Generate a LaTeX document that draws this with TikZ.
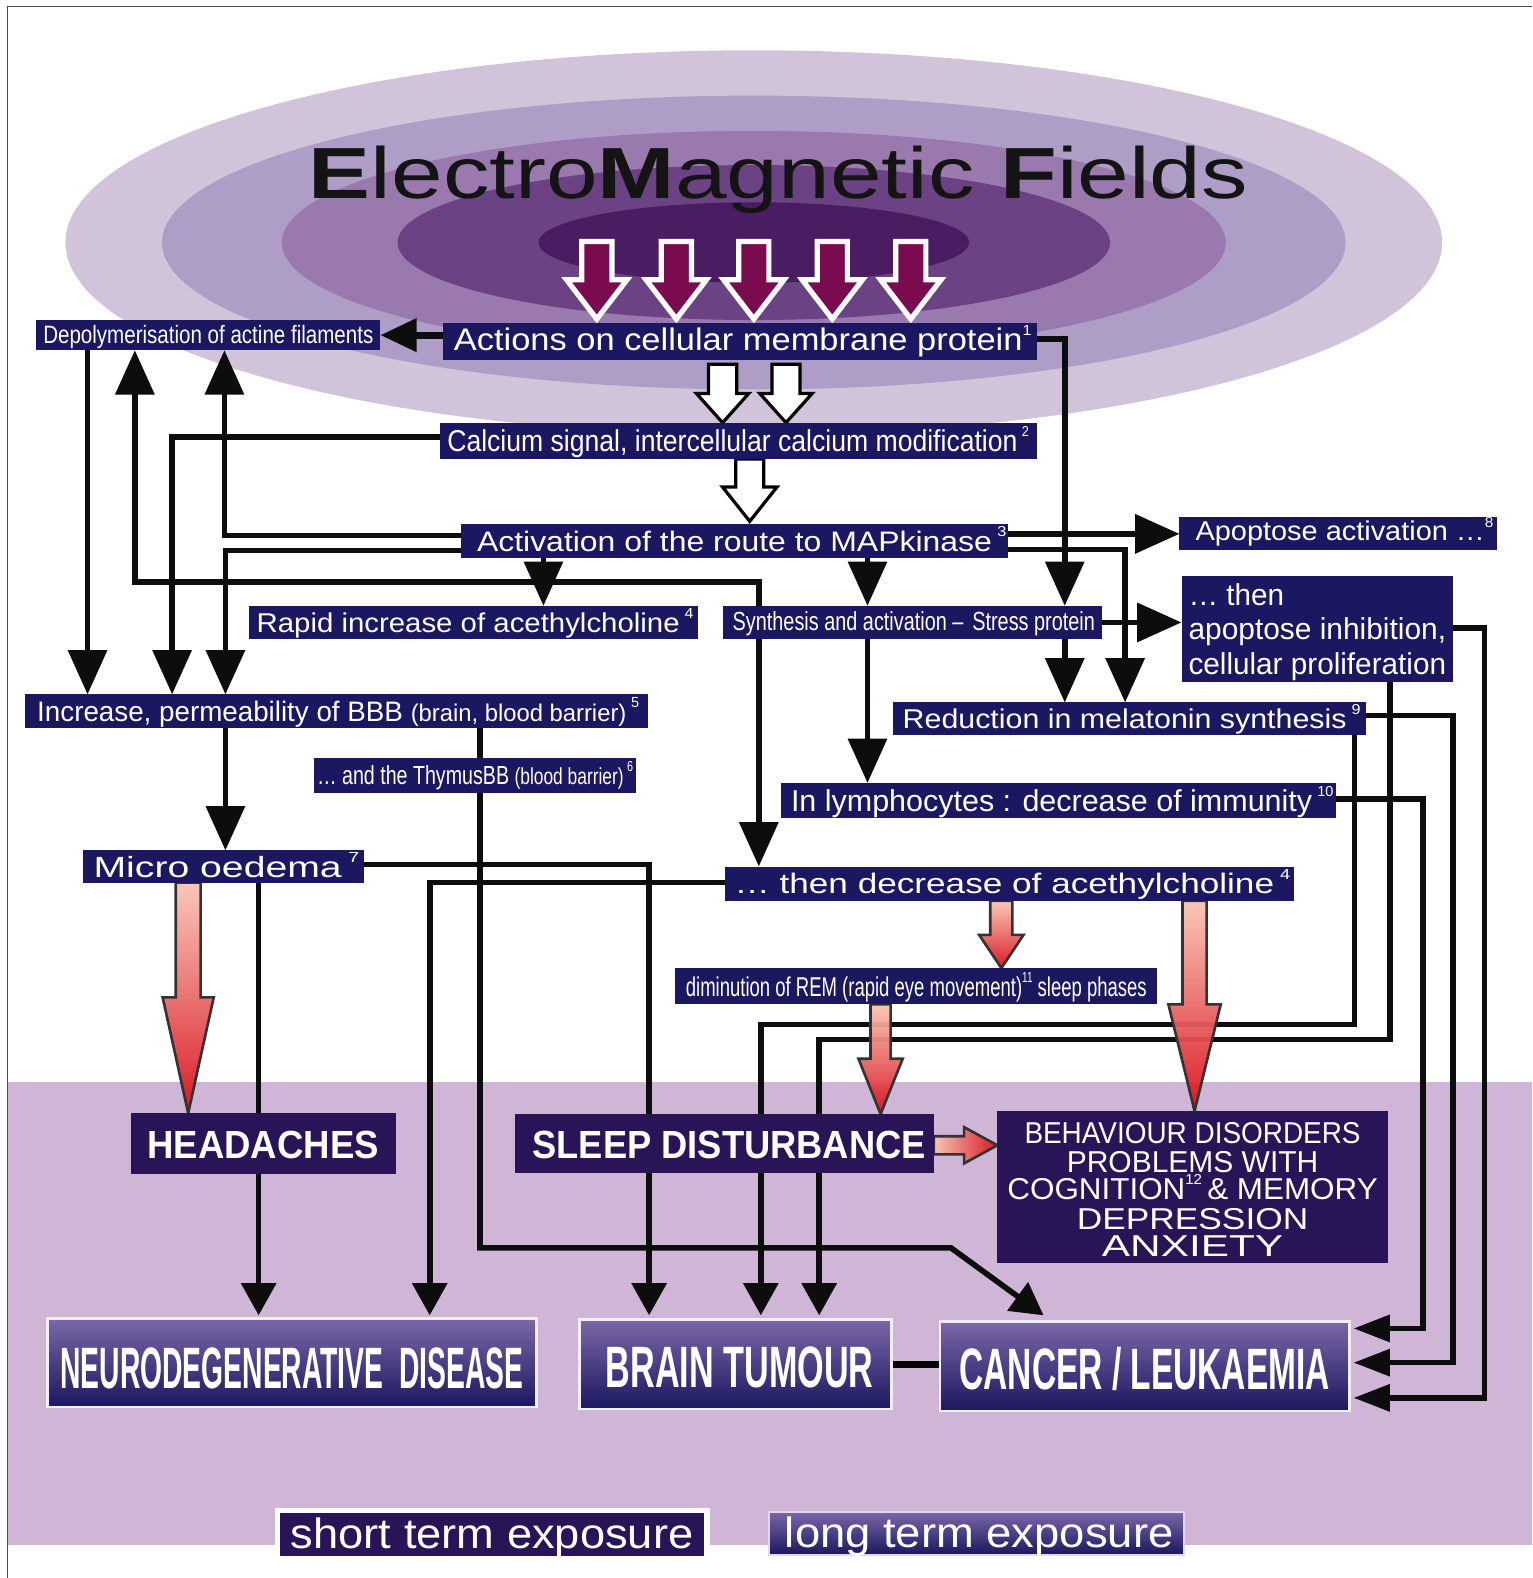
\documentclass[tikz,border=0pt]{standalone}
\usepackage{graphicx}
\usepackage{fontspec}
\setmainfont{Liberation Sans}
\usepackage{tikz}
\usetikzlibrary{arrows.meta,calc,shadings}
\definecolor{navy}{HTML}{1B1760}
\definecolor{deep}{HTML}{291458}
\definecolor{band}{HTML}{D0B6D6}
\definecolor{halo}{HTML}{D1C4DA}
\definecolor{haloB}{HTML}{AE9DC6}
\definecolor{haloC}{HTML}{9A79AF}
\definecolor{haloD}{HTML}{6B4284}
\definecolor{haloE}{HTML}{4A1D63}
\definecolor{field}{HTML}{7A0B4F}
\definecolor{redpale}{HTML}{F9C4B4}
\definecolor{redmid}{HTML}{DE2F30}
\definecolor{redcore}{HTML}{D9101C}
\definecolor{lilac}{HTML}{7B68A8}
\newcommand{\FitText}[3][0pt]{\resizebox{#2}{\height}{\raisebox{#1}[.72em][0pt]{#3}}}
\newcommand{\SizeOf}[1]{\fontsize{#1}{#1}\selectfont}
\newcommand{\Sup}[1]{\raisebox{.5em}{\fontsize{7}{7}\selectfont\resizebox{!}{5pt}{#1}}}
% arrow with a body, going down
\newcommand{\FatDown}[6]{\path[#1] let \p1=(#2),\p2=(#3) in
	(\x1-#4,\y1) -- (\x1-#4,\y2+#6) -- (\x1-#5,\y2+#6) -- (\x1,\y2)
	-- (\x1+#5,\y2+#6) -- (\x1+#4,\y2+#6) -- (\x1+#4,\y1) -- cycle;}
\pgfdeclarelayer{bg}
\pgfdeclarelayer{edges}
\pgfdeclarelayer{fat}
\pgfsetlayers{bg,edges,fat,main}
\tikzset{
	infobox/.style={fill=navy, text=white, inner sep=0pt, outer sep=0pt},
	deepbox/.style={infobox, fill=deep},
	illbox/.style={infobox, draw=white!75!band, line width=1.4pt, top color=lilac, middle color=navy!80!lilac, bottom color=navy, shading angle=0},
	link/.style={draw=black!95, line width=2.8pt, -{Triangle[length=22pt,width=19pt]}},
	linkshort/.style={link, -{Triangle[length=16pt,width=17pt]}},
	linkside/.style={link, -{Triangle[length=18pt,width=13pt]}},
	emfarrow/.style={fill=field, draw=white, line width=2.6pt},
	hollow/.style={fill=white, draw=black, line width=1.6pt},
	redarrow/.style={top color=redpale, middle color=redmid, bottom color=redcore, draw=black!80, line width=1.3pt, fill opacity=.95},
}
\begin{document}
\begin{tikzpicture}[x=0.5pt,y=-0.5pt]
		\useasboundingbox (0,0) rectangle (1522.5,1568);

		% Background
		\begin{pgfonlayer}{bg}
			\fill[band] (8,1075) rectangle (1522.5,1535);
			\draw[black!70, line width=.5pt] (7,1568) -- (7,6) -- (1522.5,6);
			\fill[halo] (749,241) ellipse [x radius=684, y radius=191];
			\fill[haloB] (749,241) ellipse [x radius=588, y radius=146];
			\fill[haloC] (749,241) ellipse [x radius=469, y radius=111];
			\fill[haloD] (749,241) ellipse [x radius=354, y radius=77];
			\fill[haloE] (749,241) ellipse [x radius=214, y radius=40];
		\end{pgfonlayer}

		% Define nodes
		\node[text=black!92, inner sep=0pt, font=\SizeOf{36}, anchor=base] (title) at (773.5,197) {\FitText{466.5pt}{\textbf{E}lectro\textbf{M}agnetic \textbf{F}ields}};

		\node[infobox, minimum width=171pt, minimum height=15pt, font=\SizeOf{12.5}] (dep) at (207,333) {\FitText[.5pt]{164pt}{Depolymerisation of actine filaments}};
		\node[infobox, minimum width=295pt, minimum height=18.5pt, font=\SizeOf{15.5}] (act) at (735,339.5) {\hspace*{3pt}\FitText[1pt]{287pt}{Actions on cellular membrane protein\Sup{1}}};
		\node[infobox, minimum width=296.5pt, minimum height=18pt, font=\SizeOf{15}] (cal) at (733.5,438) {\FitText{289pt}{Calcium signal, intercellular calcium modification\,\Sup{2}}};
		\node[infobox, minimum width=272pt, minimum height=16.5pt, font=\SizeOf{14}] (map) at (730,537.5) {\hspace*{7pt}\FitText{263pt}{Activation of the route to MAPkinase\,\Sup{3}}};
		\node[infobox, minimum width=157.5pt, minimum height=16.5pt, font=\SizeOf{13.5}] (apo) at (1329.5,530.5) {\hspace*{6.5pt}\FitText[1.5pt]{148pt}{Apoptose activation \dots\Sup{8}}};
		\node[infobox, minimum width=223.5pt, minimum height=16.5pt, font=\SizeOf{13.5}] (rapid) at (470.5,618.5) {\hspace*{1.5pt}\FitText{217pt}{Rapid increase of acethylcholine\,\Sup{4}}};
		\node[infobox, minimum width=188.5pt, minimum height=16.5pt, font=\SizeOf{13}] (syn) at (906.5,618.5) {\hspace*{1.5pt}\FitText[.5pt]{180pt}{Synthesis and activation --\, Stress protein}};
		\node[infobox, minimum width=135pt, minimum height=53pt, align=left, font=\fontsize{15}{17.3}\selectfont] (then) at (1309,625) {\FitText{47.5pt}{\dots\ then}\\\FitText{128pt}{apoptose inhibition,}\\\FitText{128pt}{cellular proliferation}};
		\node[infobox, minimum width=309.5pt, minimum height=16.5pt, font=\SizeOf{14}] (inc) at (334.5,706.5) {\hspace*{1.5pt}\FitText{299pt}{Increase, permeability of BBB {\SizeOf{12}(brain, blood barrier)}\,\Sup{5}}};
		\node[infobox, minimum width=235pt, minimum height=16pt, font=\SizeOf{13.5}] (red) at (1122,714) {\hspace*{2.5pt}\FitText{227.5pt}{Reduction in melatonin synthesis\,\Sup{9}}};
		\node[infobox, minimum width=160pt, minimum height=17.5pt, font=\SizeOf{13}] (thy) at (472,770.5) {\FitText{157pt}{\dots\ and the ThymusBB {\SizeOf{11.5}(blood barrier)}\,\Sup{6}}};
		\node[infobox, minimum width=276pt, minimum height=17.5pt, font=\SizeOf{15}] (lym) at (1052,795.5) {\hspace*{3.5pt}\FitText{269.5pt}{In lymphocytes : decrease of immunity\,\Sup{10}}};
		\node[infobox, minimum width=140pt, minimum height=16pt, font=\SizeOf{14.5}] (mic) at (222,861) {\hspace*{3pt}\FitText{132pt}{Micro oedema\,\Sup{7}}};
		\node[infobox, minimum width=283pt, minimum height=17pt, font=\SizeOf{14}] (dec) at (1003,878) {\hspace*{3pt}\FitText{276pt}{\dots\ then decrease of acethylcholine\,\Sup{4}}};
		\node[infobox, minimum width=239.5pt, minimum height=18pt, font=\SizeOf{13.5}] (dim) at (910.5,980) {\FitText{229pt}{diminution of REM (rapid eye movement)\Sup{11} sleep phases}};

		\node[deepbox, minimum width=131.5pt, minimum height=30.5pt, font=\bfseries\SizeOf{19.5}] (head) at (261.5,1136.5) {\FitText[-.5pt]{115pt}{HEADACHES}};
		\node[deepbox, minimum width=208pt, minimum height=29.5pt, font=\bfseries\SizeOf{19.5}] (sleep) at (720,1136.5) {\hspace*{4.5pt}\FitText[-.5pt]{195.5pt}{SLEEP DISTURBANCE}};
		\node[deepbox, minimum width=194pt, minimum height=75.5pt, align=center, font=\fontsize{15}{13.5}\selectfont] (beh) at (1185,1179.5) {\FitText[-1pt]{167pt}{BEHAVIOUR DISORDERS}\\[1pt]\FitText[-1pt]{125pt}{PROBLEMS WITH}\\\FitText[-1pt]{184pt}{COGNITION\Sup{12}\,\&\ MEMORY}\\[1.5pt]\FitText[-1pt]{115pt}{DEPRESSION}\\\FitText[-1pt]{90pt}{ANXIETY}};

		\node[illbox, minimum width=243pt, minimum height=44pt, font=\bfseries\SizeOf{29}] (neuro) at (290,1354) {\FitText[-2.5pt]{230pt}{NEURODEGENERATIVE\ \ DISEASE}};
		\node[illbox, minimum width=155pt, minimum height=44.5pt, font=\bfseries\SizeOf{29}] (brain) at (731,1355.5) {\hspace*{4pt}\FitText[-1pt]{133pt}{BRAIN TUMOUR}};
		\node[illbox, minimum width=203.5pt, minimum height=44.5pt, font=\bfseries\SizeOf{29}] (cancer) at (1137.5,1357.5) {\FitText[-1pt]{184pt}{CANCER / LEUKAEMIA}};

		\node[deepbox, minimum width=211pt, minimum height=21.5pt, font=\SizeOf{21}] (short) at (489,1524.5) {\FitText[.5pt]{200pt}{short term exposure}};
		\node[illbox, draw=white!45!band, line width=1pt, minimum width=206pt, minimum height=21.5pt, font=\SizeOf{21}] (long) at (970,1523.5) {\hspace*{3pt}\FitText[.5pt]{193pt}{long term exposure}};

		% Connect the nodes
		\begin{pgfonlayer}{edges}
			\fill[white] ([shift={(-2.5pt,2.5pt)}]short.north west) rectangle ([xshift=2.5pt]short.south east);

			\draw[link, line width=3.4pt, -{Triangle[length=18pt,width=16pt]}] (act.west |- dep.east) -- (dep.east);
			\draw[link] (87,0 |- dep.south) -- (87,0 |- inc.north);
			\draw[link] (act.east |- 0,337) -| (1058,0 |- syn.north);
			\draw[link] (cal.west |- 0,434) -| (171,0 |- inc.north);
			\draw[link] (map.west |- 0,532) -| (223,0 |- dep.south);
			\draw[link] (map.west |- 0,547) -| (224,0 |- inc.north);
			\draw[link] (map.east |- apo.west) -- (apo.west);
			\draw[link] (map.east |- 0,546) -| (1118,0 |- red.north);
			\draw[link] (540,0 |- map.south) -- (540,0 |- rapid.north);
			\draw[link] (862,0 |- map.south) -- (862,0 |- syn.north);
			\coordinate (fork) at (540,578);
			\draw[link] (fork) -| (134,0 |- dep.south);
			\draw[link] (fork) -| (754,0 |- dec.north);
			\draw[link] (1058,0 |- syn.south) -- (1058,0 |- red.north);
			\draw[link] (syn.east) -- (then.west |- syn.east);
			\draw[link] (862,0 |- syn.south) -- (862,0 |- lym.north);
			\draw[link] (224,0 |- inc.south) -- (224,0 |- mic.north);

			\draw[linkshort] (477,0 |- inc.south) -- (477,1240) -- (945,1240) -- (1037,1307);
			\draw[linkshort] (mic.east |- 0,859) -| (645,1307);
			\draw[linkshort] (257,0 |- mic.south) -- (257,1307);
			\draw[linkshort] (dec.west |- 0,877) -| (427,1307);
			\draw[linkshort] (1381,0 |- then.south) -- (1381,1033) -| (814,1307);
			\draw[linkshort] (1346,0 |- red.south) -- (1346,1018) -| (756,1307);

			\draw[linkside] (then.east |- 0,624) -- (1475,624) |- (1345,1389);
			\draw[linkside] (red.east |- 0,711) -- (1444,711) |- (1345,1354);
			\draw[linkside] (lym.east |- 0,794) -- (1414,794) |- (1345,1320);

			\draw[draw=black, line width=3.5pt] (brain.east) -- (cancer.west |- brain.east);
		\end{pgfonlayer}

		% Arrows with a body
		\begin{pgfonlayer}{fat}
			\foreach \xpos in {593,672,749,827,905} {
				\FatDown{emfarrow}{\xpos,240}{\xpos,317}{7.5pt}{15pt}{19.5pt}
			}
			\FatDown{hollow}{718,362}{718,0 |- cal.north}{7pt}{13pt}{14.5pt}
			\FatDown{hollow}{781,362}{781,0 |- cal.north}{7pt}{13pt}{14.5pt}
			\FatDown{hollow}{745,0 |- cal.south}{745,518}{7pt}{13.5pt}{17pt}

			\FatDown{redarrow}{187,0 |- mic.south}{187,0 |- head.north}{6.2pt}{12.7pt}{57.5pt}
			\FatDown{redarrow}{995,0 |- dec.south}{995,0 |- dim.north}{5.5pt}{11pt}{16.5pt}
			\FatDown{redarrow}{1187,0 |- dec.south}{1187,0 |- beh.north}{6pt}{13pt}{53pt}
			\FatDown{redarrow}{875,0 |- dim.south}{875,0 |- sleep.north}{5pt}{11pt}{27.5pt}
			\path[redarrow, left color=redpale, middle color=redmid, right color=redcore] (sleep.east |- 0,1129) -- (958,1129) -- (958,1120) -- (beh.west |- 0,1138) -- (958,1156) -- (958,1147) -- (sleep.east |- 0,1147) -- cycle;
		\end{pgfonlayer}
	\end{tikzpicture}
\end{document}
